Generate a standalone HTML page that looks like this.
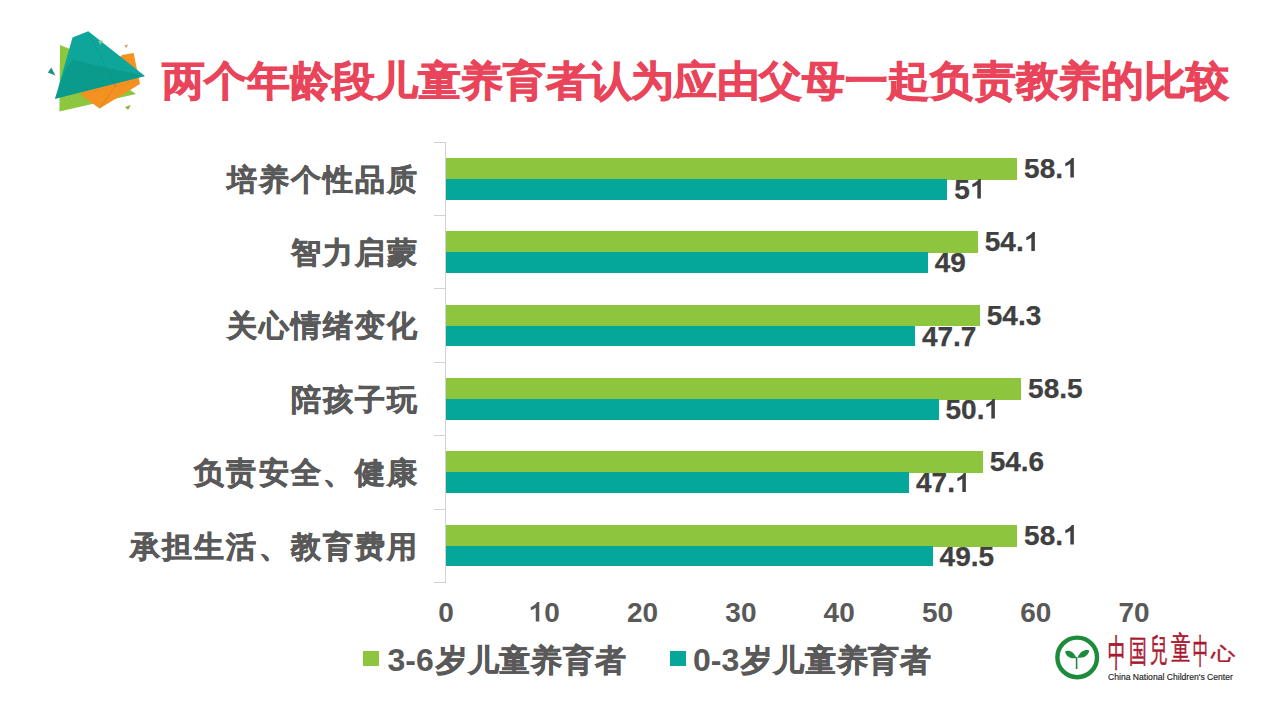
<!DOCTYPE html>
<html><head><meta charset="utf-8"><style>
html,body{margin:0;padding:0;background:#fff;}
body{width:1280px;height:720px;position:relative;overflow:hidden;font-family:"Liberation Sans",sans-serif;}
.title{position:absolute;left:161.5px;top:57.3px;font-size:43px;letter-spacing:-0.3px;transform-origin:0 0;transform:scaleY(0.955);font-weight:bold;color:#EA445A;white-space:nowrap;line-height:50px;-webkit-text-stroke:0.9px #EA445A;}
.val{position:absolute;font-size:28px;font-weight:bold;color:#404040;-webkit-text-stroke:0.25px #404040;line-height:30px;transform:translateY(-50%);white-space:nowrap;}
.cat{position:absolute;right:860.6px;font-size:29.5px;letter-spacing:2.15px;font-weight:bold;color:#595959;line-height:40px;transform:translateY(-50%);white-space:nowrap;-webkit-text-stroke:0.6px #595959;}
.tick{position:absolute;top:597.5px;font-size:28px;font-weight:bold;color:#595959;line-height:30px;transform:translateX(-50%);white-space:nowrap;}
.leg{position:absolute;font-size:30.5px;letter-spacing:0.8px;font-weight:bold;color:#595959;line-height:40px;white-space:nowrap;-webkit-text-stroke:0.6px #595959;}
.sq{position:absolute;width:16px;height:15px;}
.dg{font-size:32px;letter-spacing:0;-webkit-text-stroke:0;margin-right:2px;}
.one{width:0.556em;height:0.70em;vertical-align:baseline;fill:currentColor;}
.cal{position:absolute;font-weight:400;color:#A8182E;-webkit-text-stroke:0.35px #A8182E;white-space:nowrap;}
.en{position:absolute;left:1108px;top:672px;font-size:8.6px;color:#222;-webkit-text-stroke:0.15px #222;line-height:10px;white-space:nowrap;}
</style></head><body>
<svg style="position:absolute;left:0;top:0" width="160" height="120" viewBox="0 0 160 120">
<polygon points="60,45 70,49 136,94 59.4,111.6" fill="#8DC63F"/>
<polygon points="122,55 133.6,53 139,79.5 140,84 99.6,108.4 80.5,94.8" fill="#F39121"/>
<polygon points="72.5,37.5 88.3,31.2 144.9,76 55.1,98.7" fill="#0EA69B"/>
<polygon points="72.5,60 144.9,76 55.1,98.7 65,70" fill="#0B9B8D"/>
<polygon points="47.9,72.5 51.3,67.5 55.4,75.4" fill="#1A8F86"/>
<path d="M88.5,33 L115.5,86" stroke="#0A8F82" stroke-width="0.7" opacity="0.6" fill="none"/>
<path d="M115.5,86 L99.8,108" stroke="#D9741A" stroke-width="0.8" opacity="0.8" fill="none"/>
<path d="M81,94.5 L139.5,80" stroke="#E8801C" stroke-width="0.6" opacity="0.5" fill="none"/>
<polygon points="125,106.9 130.9,104.9 128.1,110" fill="#8DB04A"/>
<polygon points="98,41 103,40.5 100.5,45" fill="#7BC98F"/>
<polygon points="124,45.5 128,44.5 126.5,48" fill="#C9A184"/>
</svg>
<div class="title">两个年龄段儿童养育者认为应由父母一起负责教养的比较</div>
<div style="position:absolute;left:445px;top:142.2px;width:1px;height:440.2px;background:#D2D2D2"></div>
<div style="position:absolute;left:434px;top:141.7px;width:12px;height:1px;background:#D2D2D2"></div>
<div style="position:absolute;left:434px;top:215.1px;width:12px;height:1px;background:#D2D2D2"></div>
<div style="position:absolute;left:434px;top:288.4px;width:12px;height:1px;background:#D2D2D2"></div>
<div style="position:absolute;left:434px;top:361.8px;width:12px;height:1px;background:#D2D2D2"></div>
<div style="position:absolute;left:434px;top:435.2px;width:12px;height:1px;background:#D2D2D2"></div>
<div style="position:absolute;left:434px;top:508.6px;width:12px;height:1px;background:#D2D2D2"></div>
<div style="position:absolute;left:434px;top:581.9px;width:12px;height:1px;background:#D2D2D2"></div>
<div style="position:absolute;left:446.0px;top:157.9px;width:571.1px;height:21.9px;background:#8DC53F"></div>
<div style="position:absolute;left:446.0px;top:178.8px;width:501.3px;height:20.9px;background:#05A79B"></div>
<div class="val" style="left:1024.1px;top:168.8px">58.<svg class="one" viewBox="0 0 556 716" preserveAspectRatio="none"><path d="M314,0 L388,0 L388,716 L262,716 L262,212 C205,255 140,288 83,305 L83,186 C170,150 260,85 314,0 Z"/></svg></div>
<div class="val" style="left:954.3px;top:189.7px">5<svg class="one" viewBox="0 0 556 716" preserveAspectRatio="none"><path d="M314,0 L388,0 L388,716 L262,716 L262,212 C205,255 140,288 83,305 L83,186 C170,150 260,85 314,0 Z"/></svg></div>
<div class="cat" style="top:179.7px">培养个性品质</div>
<div style="position:absolute;left:446.0px;top:231.3px;width:531.8px;height:21.9px;background:#8DC53F"></div>
<div style="position:absolute;left:446.0px;top:252.2px;width:481.7px;height:20.9px;background:#05A79B"></div>
<div class="val" style="left:984.8px;top:242.2px">54.<svg class="one" viewBox="0 0 556 716" preserveAspectRatio="none"><path d="M314,0 L388,0 L388,716 L262,716 L262,212 C205,255 140,288 83,305 L83,186 C170,150 260,85 314,0 Z"/></svg></div>
<div class="val" style="left:934.7px;top:263.1px">49</div>
<div class="cat" style="top:253.1px">智力启蒙</div>
<div style="position:absolute;left:446.0px;top:304.6px;width:533.8px;height:21.9px;background:#8DC53F"></div>
<div style="position:absolute;left:446.0px;top:325.5px;width:468.9px;height:20.9px;background:#05A79B"></div>
<div class="val" style="left:986.8px;top:315.6px">54.3</div>
<div class="val" style="left:921.9px;top:336.5px">47.7</div>
<div class="cat" style="top:326.4px">关心情绪变化</div>
<div style="position:absolute;left:446.0px;top:378.0px;width:575.1px;height:21.9px;background:#8DC53F"></div>
<div style="position:absolute;left:446.0px;top:398.9px;width:492.5px;height:20.9px;background:#05A79B"></div>
<div class="val" style="left:1028.1px;top:389.0px">58.5</div>
<div class="val" style="left:945.5px;top:409.9px">50.<svg class="one" viewBox="0 0 556 716" preserveAspectRatio="none"><path d="M314,0 L388,0 L388,716 L262,716 L262,212 C205,255 140,288 83,305 L83,186 C170,150 260,85 314,0 Z"/></svg></div>
<div class="cat" style="top:399.8px">陪孩子玩</div>
<div style="position:absolute;left:446.0px;top:451.4px;width:536.7px;height:21.9px;background:#8DC53F"></div>
<div style="position:absolute;left:446.0px;top:472.3px;width:463.0px;height:20.9px;background:#05A79B"></div>
<div class="val" style="left:989.7px;top:462.3px">54.6</div>
<div class="val" style="left:916.0px;top:483.2px">47.<svg class="one" viewBox="0 0 556 716" preserveAspectRatio="none"><path d="M314,0 L388,0 L388,716 L262,716 L262,212 C205,255 140,288 83,305 L83,186 C170,150 260,85 314,0 Z"/></svg></div>
<div class="cat" style="top:473.2px">负责安全、健康</div>
<div style="position:absolute;left:446.0px;top:524.8px;width:571.1px;height:21.9px;background:#8DC53F"></div>
<div style="position:absolute;left:446.0px;top:545.6px;width:486.6px;height:20.9px;background:#05A79B"></div>
<div class="val" style="left:1024.1px;top:535.7px">58.<svg class="one" viewBox="0 0 556 716" preserveAspectRatio="none"><path d="M314,0 L388,0 L388,716 L262,716 L262,212 C205,255 140,288 83,305 L83,186 C170,150 260,85 314,0 Z"/></svg></div>
<div class="val" style="left:939.6px;top:556.6px">49.5</div>
<div class="cat" style="top:546.5px">承担生活、教育费用</div>
<div class="tick" style="left:446.0px">0</div>
<div class="tick" style="left:544.3px"><svg class="one" viewBox="0 0 556 716" preserveAspectRatio="none"><path d="M314,0 L388,0 L388,716 L262,716 L262,212 C205,255 140,288 83,305 L83,186 C170,150 260,85 314,0 Z"/></svg>0</div>
<div class="tick" style="left:642.6px">20</div>
<div class="tick" style="left:740.9px">30</div>
<div class="tick" style="left:839.2px">40</div>
<div class="tick" style="left:937.5px">50</div>
<div class="tick" style="left:1035.8px">60</div>
<div class="tick" style="left:1134.1px">70</div>
<div class="sq" style="left:363px;top:651px;background:#8DC53F"></div>
<div class="leg" style="left:387.5px;top:640px"><span class="dg">3-6</span>岁儿童养育者</div>
<div class="sq" style="left:670px;top:651px;background:#05A79B"></div>
<div class="leg" style="left:693px;top:640px"><span class="dg">0-3</span>岁儿童养育者</div>
<svg style="position:absolute;left:1050px;top:630px" width="56" height="56" viewBox="0 0 56 56">
<circle cx="27.2" cy="27.4" r="19.8" fill="none" stroke="#1E8B3C" stroke-width="4.4"/>
<path d="M26.3,28 C24,21 18,19.5 15.2,21.5 C15.5,25.5 20,29.5 26.3,28 Z" fill="#1E8B3C"/>
<path d="M27.5,27.5 C30,21 36,19 39.2,20.5 C39,24.5 34,29 27.5,27.5 Z" fill="#1E8B3C"/>
<path d="M26.6,27 L26.6,39" stroke="#1E8B3C" stroke-width="1.6" fill="none"/>
</svg>
<div class="cal" style="left:1108.5px;top:638px;width:16.5px;height:34px"><span style="display:block;font-size:20px;line-height:20px;transform-origin:0 0;transform:scale(0.891,1.870) translate(-0.8px,-2px)">中</span></div>
<div class="cal" style="left:1129.5px;top:639px;width:16.5px;height:28px"><span style="display:block;font-size:20px;line-height:20px;transform-origin:0 0;transform:scale(0.891,1.540) translate(-0.8px,-2px)">国</span></div>
<div class="cal" style="left:1151.4px;top:637px;width:16.4px;height:29px"><span style="display:block;font-size:20px;line-height:20px;transform-origin:0 0;transform:scale(0.886,1.595) translate(-0.8px,-2px)">兒</span></div>
<div class="cal" style="left:1171.7px;top:635.4px;width:18px;height:29px"><span style="display:block;font-size:20px;line-height:20px;transform-origin:0 0;transform:scale(0.972,1.595) translate(-0.8px,-2px)">童</span></div>
<div class="cal" style="left:1194px;top:637px;width:14.3px;height:31px"><span style="display:block;font-size:20px;line-height:20px;transform-origin:0 0;transform:scale(0.772,1.705) translate(-0.8px,-2px)">中</span></div>
<div class="cal" style="left:1212px;top:647px;width:22px;height:16px"><span style="display:block;font-size:20px;line-height:20px;transform-origin:0 0;transform:scale(1.188,0.880) translate(-0.8px,-2px)">心</span></div>
<div class="en">China National Children's Center</div>
</body></html>
